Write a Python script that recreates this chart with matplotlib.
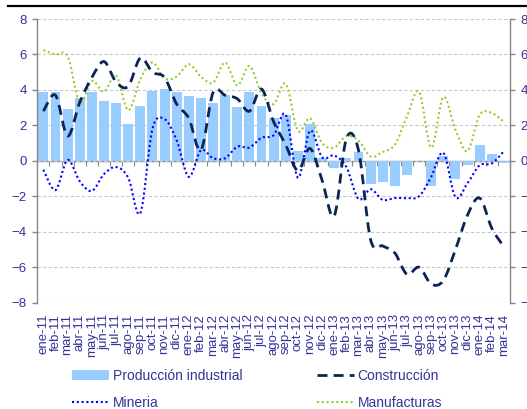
import numpy as np
import matplotlib
matplotlib.use("Agg")
import matplotlib.pyplot as plt
from matplotlib.path import Path
from matplotlib.patches import PathPatch, Patch
from matplotlib.lines import Line2D

# ---------------- data ----------------
meses = ["ene", "feb", "mar", "abr", "may", "jun", "jul", "ago", "sep", "oct", "nov", "dic"]
categorias = [f"{m}-{a}" for a in ("11", "12", "13") for m in meses] + ["ene-14", "feb-14", "mar-14"]

produccion = [3.87, 3.87, 2.9, 3.55, 3.87, 3.35, 3.25, 2.08, 3.1, 3.93, 4.05, 3.87,
              3.63, 3.57, 3.27, 3.72, 3.05, 3.87, 3.12, 2.4, 2.6, 0.55, 2.1, 0.17,
              -0.4, 0.17, 0.48, -1.28, -1.2, -1.43, -0.8, 0.0, -1.43, 0.3, -1.0, -0.25,
              0.92, 0.41, -0.1]

construccion = [2.8, 3.7, 1.4, 3.3, 4.7, 5.6, 4.45, 4.2, 5.8, 5.0, 4.7, 3.2,
                2.4, 0.6, 3.85, 3.7, 3.5, 2.8, 4.05, 2.2, 0.9, -0.55, 0.7, -1.1,
                -3.1, 1.25, 0.6, -4.45, -4.8, -5.2, -6.4, -6.0, -6.95, -6.75, -5.0, -3.05,
                -2.1, -3.8, -4.85]

mineria = [-0.5, -1.65, 0.05, -1.15, -1.7, -0.75, -0.35, -0.95, -2.95, 1.8, 2.35, 1.15,
           -0.9, 0.6, 0.15, 0.15, 0.8, 0.75, 1.3, 1.45, 2.6, -0.95, 1.7, 0.2,
           0.3, -0.35, -2.15, -1.6, -2.2, -2.1, -2.1, -2.0, -0.9, 0.45, -2.05, -1.25,
           -0.25, -0.15, 0.55]

manufacturas = [6.25, 6.0, 5.9, 3.3, 4.5, 3.9, 4.8, 2.85, 4.6, 5.55, 4.65, 4.75,
                5.45, 4.75, 4.4, 5.55, 4.25, 5.35, 3.8, 3.2, 4.35, 1.7, 2.4, 1.0,
                0.75, 1.4, 1.15, 0.25, 0.5, 0.9, 2.5, 3.9, 0.75, 3.6, 1.75, 0.55,
                2.6, 2.7, 2.2]

y_ticks = [-8, -6, -4, -2, 0, 2, 4, 6, 8]
labels_leyenda = ["Producción industrial", "Mineria", "Construcción", "Manufacturas"]

# ---------------- style ----------------
C_BAR = "#99CCFF"
C_CONS = "#0A2458"
C_MIN = "#0000FF"
C_MAN = "#99CC33"
C_TXT = "#333399"
C_AX = "#868686"

plt.rcParams["font.family"] = ["Liberation Sans", "DejaVu Sans"]

W, H = 527, 409
fig = plt.figure(figsize=(W / 100, H / 100), dpi=100)
x0, x1, ytop, ybot = 37.3, 510.0, 19.0, 302.7
ax = fig.add_axes([x0 / W, 1 - ybot / H, (x1 - x0) / W, (ybot - ytop) / H])

x = np.arange(len(categorias))
ax.set_xlim(-0.5, len(categorias) - 0.5)
ax.set_ylim(-8, 8)

# gridlines
ax.set_yticks(y_ticks)
ax.yaxis.grid(True, color="#C8C8C8", lw=0.8, ls=(0, (3, 2)), zorder=0)
ax.set_axisbelow(True)

# bars
ax.bar(x, produccion, width=0.82, color=C_BAR, zorder=2)


def smooth(xs, ys):
    pts = np.column_stack([xs, ys]).astype(float)
    n = len(pts)
    verts = [pts[0]]
    codes = [Path.MOVETO]
    for i in range(n - 1):
        p0 = pts[max(i - 1, 0)]
        p1 = pts[i]
        p2 = pts[i + 1]
        p3 = pts[min(i + 2, n - 1)]
        c1 = p1 + (p2 - p0) / 6.0
        c2 = p2 - (p3 - p1) / 6.0
        verts += [c1, c2, p2]
        codes += [Path.CURVE4] * 3
    return Path(verts, codes)


style_cons = dict(color=C_CONS, lw=2.0, ls=(0, (3.6, 2.2)))
style_min = dict(color=C_MIN, lw=1.5, ls=(0, (1, 1.3)))
style_man = dict(color=C_MAN, lw=1.5, ls=(0, (1, 1.3)))

for serie, st, z in ((manufacturas, style_man, 3), (mineria, style_min, 4), (construccion, style_cons, 5)):
    pp = PathPatch(smooth(x, serie), fill=False, edgecolor=st["color"], lw=st["lw"],
                   linestyle=st["ls"], zorder=z, capstyle="butt")
    ax.add_patch(pp)

# spines
for s in ("top", "bottom"):
    ax.spines[s].set_visible(False)
for s in ("left", "right"):
    ax.spines[s].set_color(C_AX)
    ax.spines[s].set_linewidth(1.0)

ax.tick_params(axis="y", left=True, right=True, labelleft=True, labelright=True,
               direction="out", length=3.5, width=1.0, color=C_AX,
               labelcolor=C_TXT, labelsize=9.5, pad=4)

ax.set_xticks(x)
ax.set_xticklabels(categorias, rotation=90)
ax.tick_params(axis="x", length=0, pad=8, labelcolor=C_TXT, labelsize=9.5)

# zero axis with category tick marks
sec = ax.secondary_xaxis(0.5)
sec.set_xticks(np.arange(-0.5, len(categorias), 1.0))
sec.tick_params(axis="x", direction="in", length=3.5, width=0.8, color=C_AX,
                labeltop=False, labelbottom=False)
for s in sec.spines.values():
    s.set_color(C_AX)
    s.set_linewidth(1.0)

# legend
leg_size = 10
handles = [
    Patch(facecolor=C_BAR, edgecolor="none"),
    Line2D([], [], color=C_MIN, lw=style_min["lw"], ls=style_min["ls"]),
    Line2D([], [], color=C_CONS, lw=style_cons["lw"], ls=style_cons["ls"]),
    Line2D([], [], color=C_MAN, lw=style_man["lw"], ls=style_man["ls"]),
]
fs_px = leg_size * 100 / 72
leg = fig.legend(handles, labels_leyenda, ncol=2, loc="upper left",
                 bbox_to_anchor=(72 / W, 1 - 369 / H), frameon=False,
                 prop={"family": ["Liberation Sans"], "size": leg_size}, labelcolor=C_TXT,
                 handlelength=37 / fs_px, handleheight=0.7,
                 handletextpad=4 / fs_px, columnspacing=74 / fs_px,
                 labelspacing=0.95, borderpad=0, borderaxespad=0)

# top rule
fig.add_artist(Line2D([8 / W, 1.0], [1 - 5.7 / H] * 2, transform=fig.transFigure,
                      color="black", lw=1.6))

fig.savefig("out.png", dpi=100)
